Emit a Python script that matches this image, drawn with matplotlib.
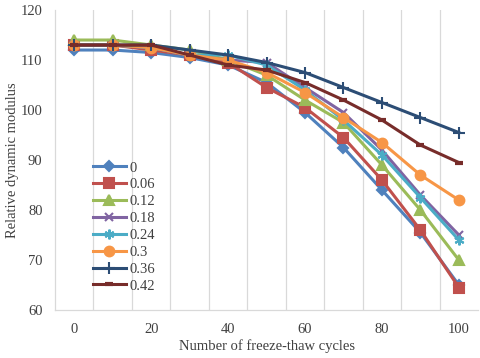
import numpy as np
import matplotlib
matplotlib.use('Agg')
import matplotlib.pyplot as plt

plt.rcParams['font.family'] = ['Liberation Serif', 'DejaVu Serif']

cycles = ['0', '10', '20', '30', '40', '50', '60', '70', '80', '90', '100']
labels = ['0', '0.06', '0.12', '0.18', '0.24', '0.3', '0.36', '0.42']

s_0 = [112, 112, 111.5, 110.5, 109, 105.5, 99.5, 92.5, 84, 75.5, 65]
s_006 = [113, 113, 112, 111, 109.5, 104.5, 100.5, 94.5, 86, 76, 64.5]
s_012 = [114, 114, 113, 112, 110, 107, 102, 97.5, 89, 80, 70]
s_018 = [113, 113, 112.5, 111, 110, 109.5, 104.5, 99.5, 92, 83, 75]
s_024 = [113, 113, 112.5, 111, 111, 109, 104, 98, 91, 82.5, 74]
s_03 = [113, 113, 112.5, 111, 110, 107.5, 103.5, 98.5, 93.5, 87, 82]
s_036 = [113, 113, 113, 112, 111, 109.5, 107.5, 104.5, 101.5, 98.5, 95.5]
s_042 = [113, 113, 113, 111, 109, 108, 105.5, 102, 98, 93, 89.5]

series = [s_0, s_006, s_012, s_018, s_024, s_03, s_036, s_042]
colors = ['#4F81BD', '#C0504D', '#9BBB59', '#8064A2', '#4BACC6', '#F79646', '#2C4D75', '#772C2A']
markers = ['D', 's', '^', 'x', (6, 2, 0), 'o', '+', '_']
msizes = [5, 6.5, 7, 6, 7, 7, 8, 6]

x = np.arange(len(cycles))

fig = plt.figure(figsize=(4.8, 3.58), dpi=100)
ax = fig.add_axes([0.1146, 0.134, 0.8814, 0.838])

for ys, c, m, ms, lab in zip(series, colors, markers, msizes, labels):
    ax.plot(x, ys, color=c, lw=2.2, marker=m, ms=ms, mec=c, mfc=c,
            mew=1.5 if m != '_' else 3, label=lab)

ax.set_xlim(-0.5, len(cycles) - 0.5)
ax.set_ylim(60, 120)
ax.set_yticks(np.arange(60, 121, 10))
ax.set_xticks(x[::2])
ax.set_xticklabels(cycles[::2])
ax.set_xticks(np.arange(0.5, len(cycles) - 1, 1), minor=True)
ax.grid(which='minor', axis='x', color='#D9D9D9', lw=0.9)
ax.tick_params(which='both', length=0, labelsize=10.5, colors='#404040')
ax.tick_params(axis='x', pad=9)
ax.tick_params(axis='y', pad=9)

for s in ['top', 'right']:
    ax.spines[s].set_visible(False)
for s in ['left', 'bottom']:
    ax.spines[s].set_color('#D9D9D9')
    ax.spines[s].set_linewidth(0.9)

ax.set_xlabel('Number of freeze-thaw cycles', fontsize=10.5, color='#404040', labelpad=3)
ax.set_ylabel('Relative dynamic modulus', fontsize=10.5, color='#404040', labelpad=1)

leg = ax.legend(loc='upper left', bbox_to_anchor=(0.075, 0.515), frameon=False,
                fontsize=10.5, handlelength=2.3, labelspacing=0.25,
                handletextpad=0.2, borderaxespad=0)
for t in leg.get_texts():
    t.set_color('#404040')

fig.savefig('out.png', dpi=100)
